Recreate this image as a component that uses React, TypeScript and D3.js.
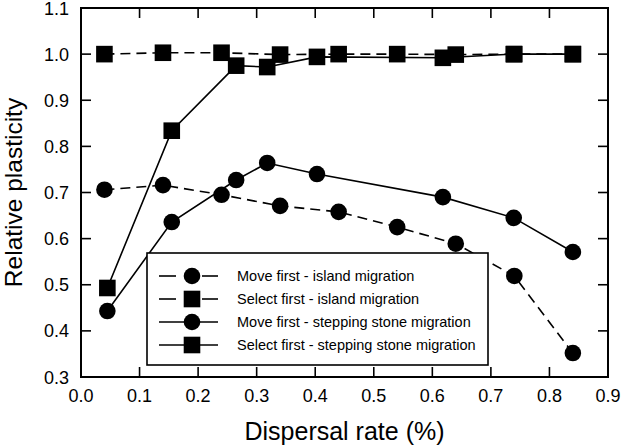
import React from "react";
import * as d3 from "d3";

const islandX = [0.04, 0.14, 0.24, 0.34, 0.44, 0.54, 0.64, 0.74, 0.84];
const moveIsland = [0.706, 0.716, 0.695, 0.671, 0.658, 0.625, 0.589, 0.519, 0.352];
const selectIsland = [1.0, 1.003, 1.003, 0.999, 1.0, 1.0, 0.999, 1.0, 1.0];

const steppingX = [0.045, 0.155, 0.265, 0.318, 0.403, 0.618, 0.739, 0.84];
const moveStepping = [0.443, 0.636, 0.727, 0.764, 0.74, 0.69, 0.645, 0.571];
const selectStepping = [0.493, 0.834, 0.975, 0.972, 0.994, 0.992, 1.0, 1.0];

const xTicks = [0, 0.1, 0.2, 0.3, 0.4, 0.5, 0.6, 0.7, 0.8, 0.9];
const yTicks = [0.3, 0.4, 0.5, 0.6, 0.7, 0.8, 0.9, 1.0, 1.1];

const legendLabels = [
  "Move first - island migration",
  "Select first - island migration",
  "Move first - stepping stone migration",
  "Select first - stepping stone migration",
];

type Series = { xs: number[]; ys: number[]; dashed: boolean; marker: "circle" | "square" };

const series: Series[] = [
  { xs: islandX, ys: moveIsland, dashed: true, marker: "circle" },
  { xs: islandX, ys: selectIsland, dashed: true, marker: "square" },
  { xs: steppingX, ys: moveStepping, dashed: false, marker: "circle" },
  { xs: steppingX, ys: selectStepping, dashed: false, marker: "square" },
];

const W = 622;
const H = 446;
const left = 81, right = 608, top = 8, bottom = 377;
const FONT = "Liberation Sans, Arial, sans-serif";

function Marker({ kind, x, y }: { kind: string; x: number; y: number }) {
  if (kind === "circle") return <circle cx={x} cy={y} r={8.3} fill="#000" />;
  return <rect x={x - 8.3} y={y - 8.3} width={16.6} height={16.6} fill="#000" />;
}

export default function App() {
  const x = d3.scaleLinear().domain([0, 0.9]).range([left, right]);
  const y = d3.scaleLinear().domain([0.3, 1.1]).range([bottom, top]);
  const line = d3.line<[number, number]>().x((d) => x(d[0])).y((d) => y(d[1]));
  const tickLen = 10;

  const legX = 147, legY = 253, legW = 341, legH = 112;
  const rowY = [276, 299, 322, 345];

  return (
    <svg width={W} height={H} style={{ position: "absolute", left: 0, top: 0, background: "#fff" }} fontFamily={FONT}>
      <rect x={0} y={0} width={W} height={H} fill="#fff" />
      {/* series lines */}
      {series.map((s, i) => (
        <path
          key={"l" + i}
          d={line(s.xs.map((v, j) => [v, s.ys[j]] as [number, number])) || ""}
          fill="none"
          stroke="#000"
          strokeWidth={1.6}
          strokeDasharray={s.dashed ? "10,6" : undefined}
        />
      ))}
      {series.map((s, i) => (
        <g key={"m" + i}>
          {s.xs.map((v, j) => (
            <Marker key={j} kind={s.marker} x={x(v)} y={y(s.ys[j])} />
          ))}
        </g>
      ))}
      {/* frame */}
      <rect x={left} y={top} width={right - left} height={bottom - top} fill="none" stroke="#000" strokeWidth={2} />
      {/* ticks */}
      {xTicks.map((t, i) => (
        <g key={"xt" + i}>
          <line x1={x(t)} x2={x(t)} y1={bottom} y2={bottom - tickLen} stroke="#000" strokeWidth={1.6} />
          <line x1={x(t)} x2={x(t)} y1={top} y2={top + tickLen} stroke="#000" strokeWidth={1.6} />
          <text x={x(t)} y={bottom + 25} fontSize={18} textAnchor="middle" fill="#000">
            {t.toFixed(1)}
          </text>
        </g>
      ))}
      {yTicks.map((t, i) => (
        <g key={"yt" + i}>
          <line x1={left} x2={left + tickLen} y1={y(t)} y2={y(t)} stroke="#000" strokeWidth={1.6} />
          <line x1={right} x2={right - tickLen} y1={y(t)} y2={y(t)} stroke="#000" strokeWidth={1.6} />
          <text x={left - 12} y={y(t) + 6.5} fontSize={18} textAnchor="end" fill="#000">
            {t.toFixed(1)}
          </text>
        </g>
      ))}
      {/* axis titles */}
      <text x={(left + right) / 2} y={440} fontSize={25} textAnchor="middle" fill="#000">
        Dispersal rate (%)
      </text>
      <text
        transform={`translate(22,${(top + bottom) / 2}) rotate(-90)`}
        fontSize={24.5}
        textAnchor="middle"
        fill="#000"
      >
        Relative plasticity
      </text>
      {/* legend */}
      <rect x={legX} y={legY} width={legW} height={legH} fill="#fff" stroke="#000" strokeWidth={1.6} />
      {series.map((s, i) => (
        <g key={"lg" + i}>
          {s.dashed ? (
            <>
              <line x1={159} x2={176} y1={rowY[i]} y2={rowY[i]} stroke="#000" strokeWidth={1.6} />
              <line x1={202} x2={218} y1={rowY[i]} y2={rowY[i]} stroke="#000" strokeWidth={1.6} />
            </>
          ) : (
            <line x1={159} x2={218} y1={rowY[i]} y2={rowY[i]} stroke="#000" strokeWidth={1.6} />
          )}
          <Marker kind={s.marker} x={192} y={rowY[i]} />
          <text x={237} y={rowY[i] + 5} fontSize={14.5} fill="#000">
            {legendLabels[i]}
          </text>
        </g>
      ))}
    </svg>
  );
}
